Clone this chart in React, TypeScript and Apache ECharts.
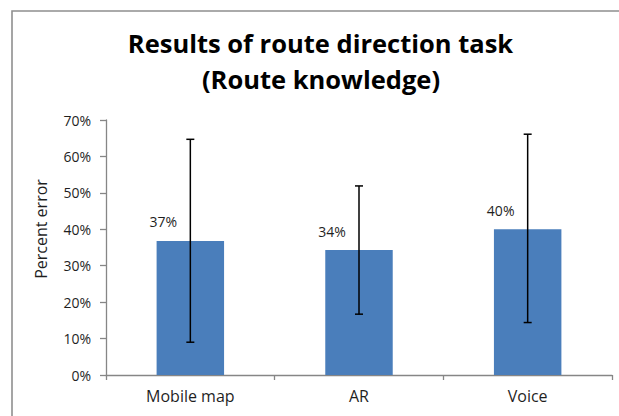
import React, { useEffect, useRef } from "react";
import * as echarts from "echarts";

const titleLines = ["Results of route direction task", "(Route knowledge)"];
const categories = ["Mobile map", "AR", "Voice"];
const values = [36.8, 34.3, 40.0];
const errorLow = [9.0, 16.7, 14.4];
const errorHigh = [64.7, 51.9, 66.1];
const yAxisName = "Percent error";
const yMin = 0;
const yMax = 70;
const yStep = 10;

const FONT = "'Open Sans', 'Noto Sans', sans-serif";

export default function App() {
  const ref = useRef<HTMLDivElement>(null);
  useEffect(() => {
    if (!ref.current) return;
    const chart = echarts.init(ref.current, null, { renderer: "svg" });
    chart.setOption({
      animation: false,
      backgroundColor: "#ffffff",
      grid: { left: 106, right: 7, top: 120, bottom: 41, containLabel: false },
      graphic: [
        {
          type: "rect",
          shape: { x: 12, y: 11, width: 800, height: 600 },
          style: { fill: "none", stroke: "#8f8f8f", lineWidth: 1.6 },
          silent: true,
        },
        {
          type: "text",
          x: 320.5,
          y: 42.5,
          style: {
            text: titleLines[0],
            align: "center",
            verticalAlign: "middle",
            font: `bold 25.5px ${FONT}`,
            fill: "#000000",
          },
        },
        {
          type: "text",
          x: 321,
          y: 78.5,
          style: {
            text: titleLines[1],
            align: "center",
            verticalAlign: "middle",
            font: `bold 25.5px ${FONT}`,
            fill: "#000000",
          },
        },
        {
          type: "text",
          x: 41,
          y: 229,
          rotation: Math.PI / 2,
          style: {
            text: yAxisName,
            align: "center",
            verticalAlign: "middle",
            font: `16px ${FONT}`,
            fill: "#1f1f1f",
          },
        },
      ],
      xAxis: {
        type: "category",
        data: categories,
        axisLine: { show: true, lineStyle: { color: "#868686", width: 1.3 } },
        axisTick: { show: true, length: 5, lineStyle: { color: "#868686", width: 1.3 } },
        axisLabel: { margin: 13, fontFamily: FONT, fontSize: 16, color: "#1f1f1f" },
        splitLine: { show: false },
      },
      yAxis: {
        type: "value",
        min: yMin,
        max: yMax,
        interval: yStep,
        axisLine: { show: true, lineStyle: { color: "#868686", width: 1.3 } },
        axisTick: { show: true, length: 6, lineStyle: { color: "#868686", width: 1.3 } },
        axisLabel: {
          margin: 15,
          fontFamily: FONT,
          fontSize: 14,
          color: "#1f1f1f",
          formatter: "{value}%",
        },
        splitLine: { show: false },
      },
      series: [
        {
          type: "bar",
          data: values,
          barCategoryGap: "60%",
          itemStyle: { color: "#4a7ebb" },
          label: {
            show: true,
            position: "top",
            offset: [-27, -7],
            fontFamily: FONT,
            fontSize: 14,
            color: "#1f1f1f",
            formatter: (p: any) => `${Math.round(p.value)}%`,
          },
          z: 2,
        },
        {
          type: "custom",
          data: categories.map((_, i) => [i, errorLow[i], errorHigh[i]]),
          encode: { x: 0, y: [1, 2] },
          z: 5,
          renderItem: (params: any, api: any) => {
            const lo = api.coord([api.value(0), api.value(1)]);
            const hi = api.coord([api.value(0), api.value(2)]);
            const hw = 4;
            const style = { stroke: "#000000", lineWidth: 1.5 };
            return {
              type: "group",
              children: [
                { type: "line", shape: { x1: lo[0], y1: lo[1], x2: hi[0], y2: hi[1] }, style },
                { type: "line", shape: { x1: hi[0] - hw, y1: hi[1], x2: hi[0] + hw, y2: hi[1] }, style },
                { type: "line", shape: { x1: lo[0] - hw, y1: lo[1], x2: lo[0] + hw, y2: lo[1] }, style },
              ],
            };
          },
        },
      ],
    });
    return () => chart.dispose();
  }, []);
  return (
    <div
      ref={ref}
      style={{ position: "fixed", left: 0, top: 0, width: 619, height: 416, background: "#fff" }}
    />
  );
}
